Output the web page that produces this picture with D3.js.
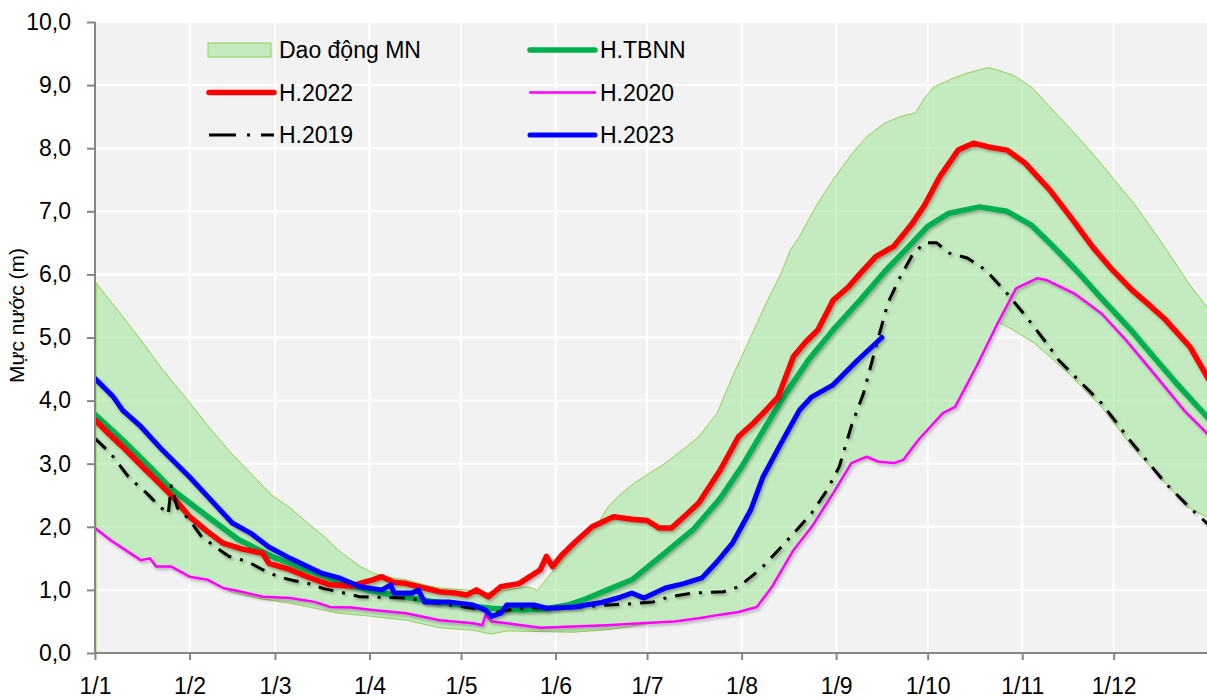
<!DOCTYPE html>
<html>
<head>
<meta charset="utf-8">
<script src="https://cdn.jsdelivr.net/npm/d3@7"></script>
<style>
  body { margin: 0; background: #fff; }
  svg { display: block; font-family: "Liberation Sans", Arial, sans-serif; }
</style>
</head>
<body>
<div id="chart"></div>
<script>
// [day of year (0 = 1/1), water level (m)]
const bandUpper = [[0,5.88],[8,5.4],[15,4.96],[22,4.5],[30,4.03],[37,3.6],[44,3.2],[51,2.85],[58,2.5],[64,2.3],[70,2.05],[75,1.85],[80,1.62],[87,1.37],[91,1.27],[96,1.2],[102,1.16],[108,1.08],[113,1.03],[122,1.0],[127,0.95],[135,1.0],[142,1.05],[145,0.99],[150,1.29],[153,1.47],[159,1.79],[165,2.05],[168,2.3],[172,2.5],[177,2.7],[187,3.01],[194,3.27],[198,3.43],[204,3.8],[209,4.38],[215,5.01],[220,5.54],[225,6.02],[228,6.39],[231,6.6],[236,7.05],[242,7.5],[248,7.9],[253,8.18],[259,8.4],[264,8.5],[269,8.56],[272,8.8],[275,8.97],[281,9.1],[286,9.19],[293,9.28],[301,9.16],[307,8.97],[313,8.66],[318,8.4],[324,8.08],[330,7.75],[335,7.45],[341,7.1],[346,6.76],[352,6.34],[358,5.9],[365,5.45]]
const bandLower = [[0,1.98],[5,1.79],[10,1.63],[15,1.47],[18,1.5],[20,1.37],[25,1.37],[31,1.21],[37,1.16],[42,1.03],[45,0.96],[53,0.87],[64,0.79],[75,0.68],[80,0.63],[91,0.58],[102,0.52],[113,0.4],[124,0.36],[130,0.3],[135,0.35],[146,0.34],[157,0.33],[168,0.37],[176,0.42],[183,0.48],[190,0.5],[198,0.55],[204,0.6],[211,0.65],[217,0.73],[222,1.05],[229,1.63],[235,2.0],[242,2.53],[248,3.01],[253,3.11],[257,3.03],[262,3.01],[265,3.06],[270,3.38],[278,3.8],[282,3.9],[289,4.54],[296,5.25],[301,5.12],[308,4.91],[319,4.44],[330,3.9],[340,3.27],[351,2.69],[358,2.32],[365,2.14]]
const tbnn = [[0,3.78],[9,3.38],[18,2.95],[25,2.6],[37,2.16],[47,1.8],[58,1.53],[70,1.3],[80,1.13],[90,0.99],[100,0.9],[110,0.82],[120,0.76],[130,0.71],[140,0.68],[148,0.7],[155,0.76],[161,0.86],[168,1.0],[176,1.16],[186,1.55],[196,1.95],[205,2.45],[212,2.95],[220,3.6],[227,4.15],[234,4.65],[242,5.12],[251,5.6],[259,6.05],[266,6.4],[273,6.76],[280,6.97],[290,7.07],[299,7.0],[307,6.78],[314,6.45],[322,6.05],[330,5.62],[340,5.1],[347,4.7],[355,4.25],[365,3.72]]
const h2022 = [[0,3.69],[5,3.45],[9,3.27],[15,2.98],[20,2.74],[26,2.45],[31,2.16],[37,1.92],[42,1.74],[48,1.65],[55,1.58],[57,1.42],[64,1.32],[70,1.2],[77,1.08],[84,1.06],[88,1.12],[91,1.16],[94,1.21],[98,1.12],[102,1.1],[108,1.03],[113,0.97],[118,0.95],[122,0.92],[125,1.0],[129,0.89],[133,1.05],[139,1.1],[146,1.32],[148,1.53],[150,1.37],[153,1.55],[157,1.74],[163,2.0],[170,2.16],[176,2.12],[181,2.1],[185,1.98],[189,1.98],[194,2.2],[198,2.38],[205,2.9],[211,3.43],[216,3.65],[220,3.85],[224,4.06],[229,4.7],[233,4.93],[237,5.12],[242,5.59],[247,5.8],[251,6.02],[256,6.28],[262,6.45],[268,6.81],[272,7.1],[277,7.55],[283,7.97],[288,8.08],[293,8.02],[299,7.97],[305,7.76],[313,7.34],[320,6.9],[327,6.44],[333,6.1],[340,5.75],[346,5.5],[351,5.28],[359,4.85],[365,4.35]]
const h2020 = [[0,1.98],[5,1.79],[10,1.63],[15,1.47],[18,1.5],[20,1.37],[25,1.37],[31,1.21],[37,1.16],[42,1.03],[48,0.97],[55,0.89],[64,0.87],[72,0.81],[77,0.73],[84,0.72],[91,0.68],[102,0.63],[113,0.52],[124,0.47],[127,0.44],[128,0.6],[130,0.5],[135,0.47],[146,0.4],[157,0.42],[168,0.44],[179,0.47],[190,0.5],[198,0.55],[204,0.6],[211,0.65],[217,0.73],[222,1.05],[229,1.63],[235,2.0],[242,2.53],[248,3.01],[253,3.11],[257,3.03],[262,3.01],[265,3.06],[270,3.38],[278,3.8],[282,3.9],[289,4.54],[296,5.23],[302,5.78],[309,5.94],[312,5.91],[321,5.7],[330,5.38],[338,4.96],[347,4.44],[357,3.85],[365,3.46]]
const h2019 = [[0,3.4],[5,3.17],[11,2.79],[17,2.53],[20,2.38],[24,2.2],[25,2.65],[27,2.3],[31,2.11],[35,1.84],[41,1.63],[44,1.53],[50,1.45],[55,1.32],[60,1.21],[65,1.15],[70,1.1],[75,1.02],[80,0.97],[87,0.89],[95,0.88],[102,0.87],[108,0.83],[113,0.79],[118,0.75],[124,0.71],[132,0.65],[139,0.71],[150,0.73],[159,0.73],[168,0.76],[176,0.78],[183,0.81],[187,0.87],[192,0.92],[196,0.95],[206,0.97],[211,1.05],[218,1.32],[225,1.68],[231,2.0],[235,2.22],[240,2.58],[244,2.95],[248,3.6],[252,4.12],[256,4.85],[260,5.55],[264,5.96],[268,6.31],[272,6.5],[276,6.5],[280,6.34],[286,6.26],[292,6.07],[299,5.7],[305,5.35],[312,4.91],[316,4.64],[323,4.3],[330,3.96],[340,3.33],[351,2.69],[359,2.3],[365,2.04]]
const h2023 = [[0,4.35],[6,4.06],[9,3.85],[15,3.59],[22,3.22],[31,2.79],[40,2.32],[45,2.06],[51,1.9],[57,1.68],[64,1.5],[74,1.27],[80,1.19],[87,1.05],[94,1.0],[97,1.08],[98,0.95],[104,0.95],[106,1.0],[108,0.81],[116,0.81],[124,0.76],[128,0.68],[130,0.58],[133,0.63],[135,0.76],[144,0.76],[148,0.71],[157,0.73],[166,0.8],[172,0.88],[176,0.95],[180,0.87],[187,1.03],[193,1.1],[199,1.19],[204,1.45],[209,1.74],[215,2.27],[219,2.79],[225,3.33],[231,3.85],[235,4.06],[242,4.25],[250,4.64],[258,5.0]]
const yTicks = d3.range(0, 11)

const width = 1207
const height = 698
const plot = { left: 95, top: 22, bottom: 653, right: 1207 }
const pxPerDay = 3.05

const start = new Date(2023, 0, 1)
const end = new Date(2024, 0, 1)
const day = d => d3.timeDay.offset(start, d)
const months = d3.timeMonth.range(start, end)

const x = d3.scaleTime().domain([start, end]).range([plot.left, plot.left + 365 * pxPerDay])
const y = d3.scaleLinear().domain([0, 10]).range([plot.bottom, plot.top])

const svg = d3.select('#chart')
  .append('svg')
  .attr('width', width)
  .attr('height', height)

const defs = svg.append('defs')
defs.append('clipPath').attr('id', 'clip')
  .append('rect')
  .attr('x', plot.left).attr('y', plot.top)
  .attr('width', plot.right - plot.left).attr('height', plot.bottom - plot.top)
defs.append('filter').attr('id', 'shadow')
  .attr('filterUnits', 'userSpaceOnUse')
  .attr('x', 0).attr('y', 0).attr('width', width).attr('height', height)
  .append('feDropShadow')
  .attr('dx', 1.5).attr('dy', 2).attr('stdDeviation', 1.6)
  .attr('flood-color', '#000').attr('flood-opacity', 0.3)

svg.append('rect')
  .attr('x', plot.left).attr('y', plot.top)
  .attr('width', plot.right - plot.left).attr('height', plot.bottom - plot.top)
  .attr('fill', '#f2f2f2')

// grid
svg.append('g').selectAll('line')
  .data(yTicks.slice(1))
  .enter().append('line')
  .attr('x1', plot.left).attr('x2', plot.right)
  .attr('y1', d => y(d)).attr('y2', d => y(d))
  .attr('stroke', '#fff').attr('stroke-width', 2)
svg.append('g').selectAll('line')
  .data(months.slice(1))
  .enter().append('line')
  .attr('x1', d => x(d)).attr('x2', d => x(d))
  .attr('y1', plot.top).attr('y2', plot.bottom)
  .attr('stroke', '#fff').attr('stroke-width', 2)

const g = svg.append('g').attr('clip-path', 'url(#clip)')

const line = d3.line().x(d => x(day(d[0]))).y(d => y(d[1]))

// band: upper forward, lower back
const bandFill = 'rgba(150,228,140,0.5)'
const bandStroke = '#92d050'
g.append('path')
  .attr('d', line(bandUpper.concat(bandLower.slice().reverse())) + 'Z')
  .attr('fill', bandFill)
  .attr('stroke', bandStroke)
  .attr('stroke-width', 1)
g.append('line')
  .attr('x1', x(day(bandUpper[0][0])) + 0.5).attr('x2', x(day(bandUpper[0][0])) + 0.5)
  .attr('y1', y(0)).attr('y2', y(bandUpper[0][1]))
  .attr('stroke', bandStroke).attr('stroke-width', 2)

const series = [
  { name: 'H.TBNN', data: tbnn, color: '#00b050', w: 5.5 },
  { name: 'H.2022', data: h2022, color: '#ff0000', w: 5.5 },
  { name: 'H.2020', data: h2020, color: '#ff00ff', w: 2.5 },
  { name: 'H.2019', data: h2019, color: '#000000', w: 3, dash: '15,9,3,9' },
  { name: 'H.2023', data: h2023, color: '#0000ff', w: 5 }
]

series.forEach(s => {
  g.append('path')
    .attr('d', line(s.data))
    .attr('fill', 'none')
    .attr('stroke', s.color)
    .attr('stroke-width', s.w)
    .attr('stroke-linejoin', 'round')
    .attr('stroke-linecap', s.dash ? 'butt' : 'round')
    .attr('stroke-dasharray', s.dash || null)
    .attr('filter', 'url(#shadow)')
})

// axes
const fmt = d => d3.format('.1f')(d).replace('.', ',')
const yAxis = svg.append('g')
  .attr('transform', `translate(${plot.left}, 0)`)
  .call(d3.axisLeft(y).tickValues(yTicks).tickFormat(fmt).tickSize(8).tickSizeOuter(0).tickPadding(16))
const xAxis = svg.append('g')
  .attr('transform', `translate(0, ${plot.bottom})`)
  .call(d3.axisBottom(x).tickValues(months).tickFormat(d3.timeFormat('%-d/%-m')).tickSize(7).tickSizeOuter(0).tickPadding(18))
;[yAxis, xAxis].forEach(a => {
  a.select('.domain').attr('stroke', '#868686').attr('stroke-width', 2)
  a.selectAll('.tick line').attr('stroke', '#868686').attr('stroke-width', 2)
  a.selectAll('.tick text')
    .attr('fill', '#000')
    .style('font-family', '"Liberation Sans", Arial, sans-serif')
    .style('font-size', '23px')
})
xAxis.select('.domain').attr('d', `M${plot.left},0H${plot.right}`)
yAxis.select('.domain').attr('d', `M0,${plot.bottom}V${plot.top}`)

svg.append('text')
  .attr('transform', `translate(24, ${(plot.top + plot.bottom) / 2 - 22}) rotate(-90)`)
  .attr('text-anchor', 'middle')
  .style('font-size', '21px')
  .text('Mực nước (m)')

// legend
const legendItems = [
  { name: 'Dao động MN', band: true, col: 0, row: 0 },
  { s: series[0], col: 1, row: 0 },
  { s: series[1], col: 0, row: 1 },
  { s: series[2], col: 1, row: 1 },
  { s: series[3], col: 0, row: 2 },
  { s: series[4], col: 1, row: 2 }
]
const colX = [208, 529]
const rowY = [50, 92.5, 135]
const legend = svg.append('g')
legendItems.forEach(it => {
  const lx = colX[it.col]
  const ly = rowY[it.row]
  if (it.band) {
    legend.append('rect')
      .attr('x', lx).attr('y', ly - 7).attr('width', 63).attr('height', 14)
      .attr('fill', bandFill).attr('stroke', bandStroke).attr('stroke-width', 1)
  } else {
    legend.append('line')
      .attr('x1', lx + 1).attr('x2', lx + 66)
      .attr('y1', ly).attr('y2', ly)
      .attr('stroke', it.s.color)
      .attr('stroke-width', it.s.w)
      .attr('stroke-linecap', it.s.dash ? 'butt' : 'round')
      .attr('stroke-dasharray', it.s.dash ? '27,11,3,11' : null)
  }
  legend.append('text')
    .attr('x', lx + 71).attr('y', ly)
    .attr('dy', '0.36em')
    .style('font-size', '23px')
    .text(it.band ? it.name : it.s.name)
})
</script>
</body>
</html>
